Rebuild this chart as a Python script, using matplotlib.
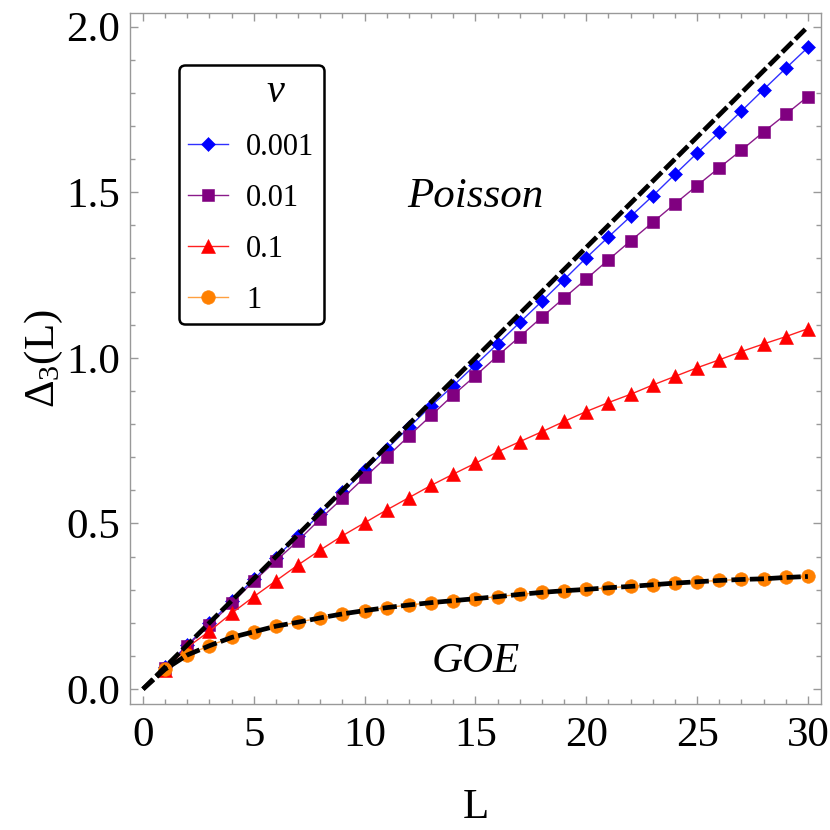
import numpy as np
import matplotlib
matplotlib.use("Agg")
import matplotlib.pyplot as plt
from matplotlib.ticker import MultipleLocator, FormatStrFormatter

# ===============================
# Data
# ===============================
L = np.arange(1, 31)

nu_labels = ["0.001", "0.01", "0.1", "1"]

delta_nu_0001 = [0.066, 0.133, 0.199, 0.266, 0.332, 0.397, 0.463, 0.529, 0.594, 0.660,
                 0.725, 0.790, 0.855, 0.916, 0.979, 1.042, 1.107, 1.171, 1.236, 1.302,
                 1.365, 1.427, 1.489, 1.554, 1.618, 1.681, 1.745, 1.810, 1.874, 1.937]

delta_nu_001 = [0.064, 0.131, 0.194, 0.259, 0.326, 0.387, 0.448, 0.514, 0.576, 0.639,
                0.701, 0.764, 0.826, 0.888, 0.946, 1.006, 1.064, 1.123, 1.181, 1.238,
                1.296, 1.353, 1.409, 1.465, 1.520, 1.574, 1.627, 1.682, 1.735, 1.789]

delta_nu_01 = [0.058, 0.126, 0.175, 0.229, 0.279, 0.327, 0.375, 0.420, 0.463, 0.502,
               0.541, 0.578, 0.615, 0.649, 0.682, 0.716, 0.747, 0.777, 0.808, 0.838,
               0.865, 0.890, 0.918, 0.944, 0.970, 0.994, 1.019, 1.042, 1.064, 1.088]

delta_nu_1 = [0.060, 0.103, 0.131, 0.156, 0.173, 0.190, 0.202, 0.215, 0.227, 0.237,
              0.246, 0.254, 0.261, 0.267, 0.273, 0.279, 0.286, 0.292, 0.297, 0.301,
              0.306, 0.310, 0.315, 0.320, 0.324, 0.328, 0.331, 0.333, 0.337, 0.340]

# reference curves
poisson_L = [0, 30]
poisson_delta = [0.0, 2.0]
goe_L = np.arange(0, 31)
goe_delta = [0.0] + delta_nu_1

# ===============================
# Style
# ===============================
plt.rcParams["font.family"] = ["Liberation Serif", "DejaVu Serif"]
plt.rcParams["mathtext.fontset"] = "custom"
plt.rcParams["mathtext.rm"] = "Liberation Serif"
plt.rcParams["mathtext.it"] = "Liberation Serif:italic"

frame_gray = "#999999"

fig = plt.figure(figsize=(8.3, 8.3), dpi=100)
ax = fig.add_axes([0.1566, 0.1518, 0.8324, 0.8325])

series = [
    (delta_nu_0001, "#0000FF", "#3030FF", "D", 7.6),
    (delta_nu_001, "#800080", "#8A1A8A", "s", 8.4),
    (delta_nu_01, "#FF0000", "#FF2020", "^", 10.5),
    (delta_nu_1, "#FF8000", "#FFA040", "o", 9.8),
]
for (vals, mcol, lcol, mk, ms), lab in zip(series, nu_labels):
    ax.plot(L, vals, color=lcol, lw=1.0, marker=mk, ms=ms,
            markerfacecolor=mcol, markeredgecolor=mcol, markeredgewidth=0.4,
            label=lab)

dash_kw = dict(color="black", lw=3.4, dashes=(3.0, 0.9), dash_capstyle="butt", zorder=5)
ax.plot(poisson_L, poisson_delta, **dash_kw)
ax.plot(goe_L, goe_delta, **dash_kw)

ax.text(15, 1.456, "Poisson", fontsize=31, style="italic", ha="center", va="baseline")
ax.text(15, 0.052, "GOE", fontsize=31, style="italic", ha="center", va="baseline")

ax.set_xlim(-0.586, 30.586)
ax.set_ylim(-0.045, 2.041)

ax.xaxis.set_major_locator(MultipleLocator(5))
ax.xaxis.set_minor_locator(MultipleLocator(1))
ax.yaxis.set_major_locator(MultipleLocator(0.5))
ax.yaxis.set_minor_locator(MultipleLocator(0.1))
ax.yaxis.set_major_formatter(FormatStrFormatter("%.1f"))

ax.tick_params(which="both", direction="in", top=True, right=True,
               color=frame_gray, width=1.0)
ax.tick_params(which="major", length=6, labelsize=31, pad=7)
ax.tick_params(which="minor", length=3.6)
ax.tick_params(axis="x", which="major", pad=9)
for sp in ax.spines.values():
    sp.set_color(frame_gray)
    sp.set_linewidth(1.0)

ax.set_xlabel("L", fontsize=31, labelpad=24)
ax.set_ylabel(r"$\mathrm{\Delta_3(L)}$", fontsize=31, labelpad=1)

leg = ax.legend(title=r"     $\nu$", loc="upper left", bbox_to_anchor=(0.071, 0.925),
                fontsize=22, title_fontsize=29, frameon=True, fancybox=True,
                edgecolor="black", framealpha=1, handlelength=1.3,
                handletextpad=0.6, labelspacing=0.72, borderpad=0.3,
                borderaxespad=0, alignment="center")
leg.get_frame().set_linewidth(1.8)
leg.set_zorder(10)

fig.savefig("out.png", dpi=100)
